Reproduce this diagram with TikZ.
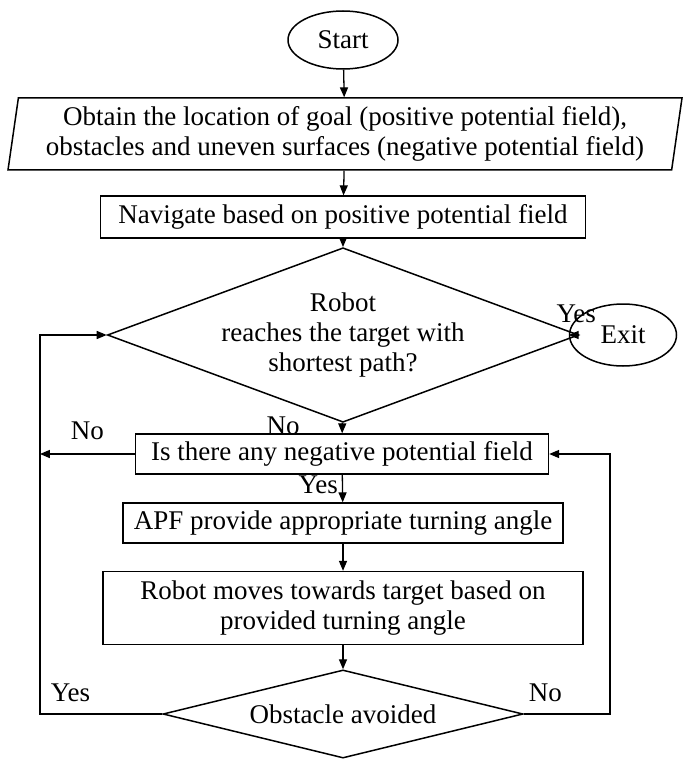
\documentclass[tikz,border=0pt]{standalone}
\usepackage{fontspec}
\setmainfont{Liberation Serif}
\usetikzlibrary{positioning}
\usetikzlibrary{shapes.geometric}
\usetikzlibrary{arrows}
\tikzset{
    % Arrow shape used throughout
    >=triangle 45,
    % Lines and text
    flow/.style={draw, line width=1.3pt, ->},
    every node/.style={align=center, font=\fontsize{27}{30}\selectfont},
}
\begin{document}
\begin{tikzpicture}[
    x=1pt, y=-1pt,
    process/.style={draw, rectangle, line width=1.5pt, inner sep=2pt},
    term/.style={draw, ellipse, line width=1.5pt, inner sep=1pt},
    test/.style={draw, diamond, aspect=2.7, line width=1.5pt, inner sep=0pt},
    io/.style={draw, trapezium, trapezium left angle=80, trapezium right angle=100,
        trapezium stretches body, line width=1.5pt, inner sep=2pt},
    edge label/.style={font=\fontsize{27}{30}\selectfont, inner sep=0},
]

\useasboundingbox (0,0) rectangle (685,759);

\path
    (343,40) node (start) [term, minimum width=110pt, minimum height=58pt] {Start}
    (345,134) node (obtain) [io, minimum height=72pt, minimum width=674pt]
        {Obtain the location of goal (positive potential field),\\
         obstacles and uneven surfaces (negative potential field)}
    (343,217) node (navigate) [process, minimum width=485pt, minimum height=42pt]
        {Navigate based on positive potential field}
    (343,335) node (reach) [test, minimum width=367pt, minimum height=136pt]
        {Robot\\reaches the target with\\shortest path?}
    (623,335) node (exit) [term, minimum width=107pt, minimum height=62pt] {Exit}
    (342,454) node (negative) [process, minimum width=413pt, minimum height=40pt]
        {Is there any negative potential field}
    (343,523) node (apf) [process, minimum width=440pt, minimum height=40pt]
        {APF provide appropriate turning angle}
    (343,608) node (moves) [process, minimum width=480pt, minimum height=73pt]
        {Robot moves towards target based on\\provided turning angle}
    (343,714) node (avoided) [test, minimum width=360pt, minimum height=76pt]
        {Obstacle avoided};

\coordinate (left top) at (40,335);
\coordinate (left mid) at (40,454);
\coordinate (left bottom) at (40,714);
\coordinate (right mid) at (610,454);
\coordinate (right bottom) at (610,714);

\draw [flow] (start) -- (obtain);
\draw [flow] (obtain) -- (navigate);
\draw [flow] (navigate) -- (reach);
\draw [flow] (reach) -- node [edge label, above=12pt, pos=0.3] {Yes} (exit);
\draw [flow] (reach) -- node [edge label, left=42pt, pos=0.25] {No} (negative);
\draw [flow] (negative) -- node [edge label, left=4pt, pos=0.35] {Yes} (apf);
\draw [flow] (apf) -- (moves);
\draw [flow] (moves) -- (avoided);

% Loops on both sides
\draw [flow] (negative) -- node [edge label, above=14pt, pos=0.5] {No} (left mid);
\draw [flow] (avoided.west) -- node [edge label, above=12pt, pos=0.75] {Yes}
    (left bottom) -- (left top) -- (reach.west);
\draw [flow] (avoided.east) -- node [edge label, above=12pt, pos=0.25] {No}
    (right bottom) -- (right mid) -- (negative.east);

\end{tikzpicture}
\end{document}
